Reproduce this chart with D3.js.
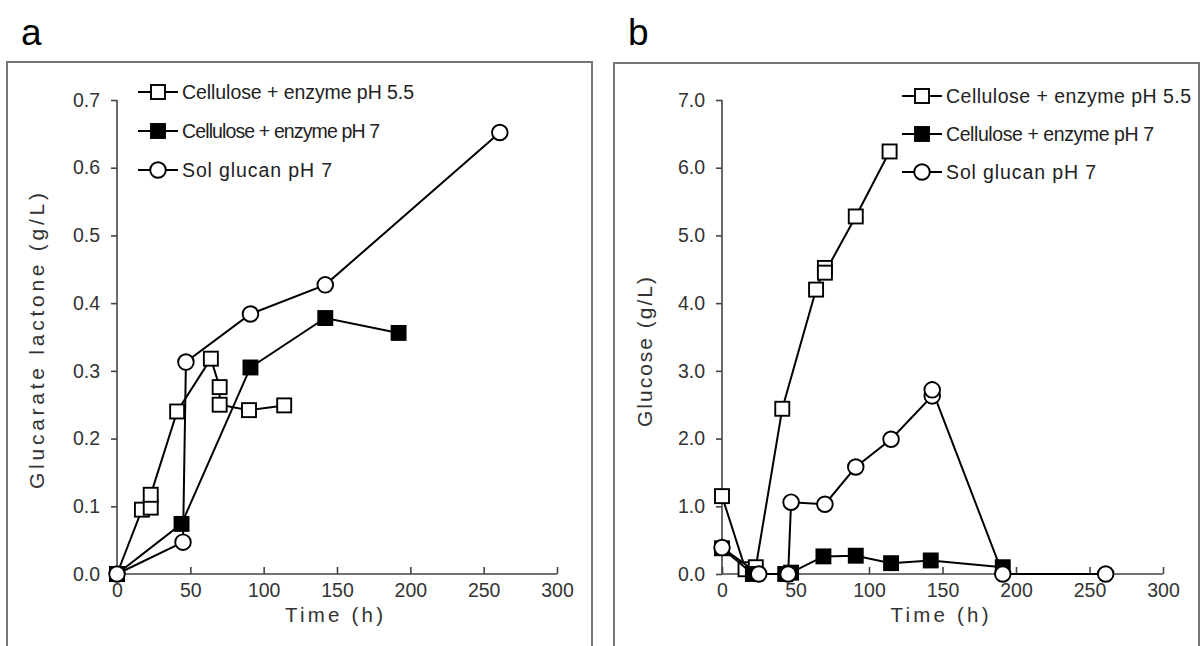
<!DOCTYPE html>
<html>
<head>
<meta charset="utf-8">
<script src="https://cdn.jsdelivr.net/npm/d3@7"></script>
<style>
  html, body { margin: 0; padding: 0; background: #fff; }
  svg { display: block; font-family: "Liberation Sans", Arial, sans-serif; }
</style>
</head>
<body>
<svg id="chart" width="1204" height="646"></svg>
<script>
// ---------- Data ----------
const seriesNames = ["Cellulose + enzyme pH 5.5", "Cellulose + enzyme pH 7", "Sol glucan pH 7"];
const xTicks = [0, 50, 100, 150, 200, 250, 300];

// Panel a: Glucarate lactone (g/L)
const aPH55Time  = [0, 17, 23, 23, 41, 64, 70, 70, 90, 114];
const aPH55Value = [0, 0.095, 0.098, 0.117, 0.240, 0.318, 0.276, 0.250, 0.242, 0.249];
const aPH7Time   = [0, 44, 91, 142, 192];
const aPH7Value  = [0, 0.074, 0.305, 0.378, 0.356];
const aSolTime   = [0, 45, 47, 91, 142, 261];
const aSolValue  = [0, 0.047, 0.313, 0.384, 0.427, 0.652];
const aYTicks = [0, 0.1, 0.2, 0.3, 0.4, 0.5, 0.6, 0.7];

// Panel b: Glucose (g/L)
const bPH55Time  = [0, 16, 23, 41, 64, 70, 70, 91, 114];
const bPH55Value = [1.15, 0.07, 0.10, 2.44, 4.20, 4.52, 4.45, 5.28, 6.24];
const bPH7Time   = [0, 21, 43, 47, 69, 91, 115, 142, 191];
const bPH7Value  = [0.38, 0.0, 0.0, 0.02, 0.26, 0.27, 0.16, 0.20, 0.10];
const bSolTime   = [0, 25, 45, 47, 70, 91, 115, 143, 143, 191, 261];
const bSolValue  = [0.39, 0.0, 0.0, 1.06, 1.03, 1.58, 1.99, 2.63, 2.72, 0.0, 0.0];
const bYTicks = [0, 1, 2, 3, 4, 5, 6, 7];

const markers = ["squareOpen", "squareFilled", "circleOpen"];

function zip(t, v) { return t.map((d, i) => ({ t: d, v: v[i] })); }

const panels = [
  {
    label: "a", frame: { x: 7, y: 62, w: 585 },
    xRange: [117, 557], yRange: [574, 100], yDomain: [0, 0.7],
    yTicks: aYTicks, yFmt: d3.format(".1f"),
    yTitle: "Glucarate lactone (g/L)", yTitleX: 37, yTitleY: 341, yTitleLen: 296,
    series: [zip(aPH55Time, aPH55Value), zip(aPH7Time, aPH7Value), zip(aSolTime, aSolValue)],
    legend: { x: 138, y: [92, 131, 170], textLen: [232, 198, 150] }
  },
  {
    label: "b", frame: { x: 614, y: 63, w: 585 },
    xRange: [722, 1163], yRange: [574, 100], yDomain: [0, 7],
    yTicks: bYTicks, yFmt: d3.format(".1f"),
    yTitle: "Glucose (g/L)", yTitleX: 645, yTitleY: 352, yTitleLen: 150,
    series: [zip(bPH55Time, bPH55Value), zip(bPH7Time, bPH7Value), zip(bSolTime, bSolValue)],
    legend: { x: 902, y: [96, 134, 172], textLen: [245, 208, 150] }
  }
];

const svg = d3.select("#chart");

function drawMarker(g, type, x, y) {
  if (type === "circleOpen") {
    g.append("circle").attr("cx", x).attr("cy", y).attr("r", 7.8)
      .attr("fill", "#fff").attr("stroke", "#000").attr("stroke-width", 1.9);
  } else {
    const s = 14;
    g.append("rect").attr("x", x - s / 2).attr("y", y - s / 2).attr("width", s).attr("height", s)
      .attr("fill", type === "squareFilled" ? "#000" : "#fff")
      .attr("stroke", "#000").attr("stroke-width", 1.9);
  }
}

panels.forEach(p => {
  const g = svg.append("g");
  // frame
  g.append("rect").attr("x", p.frame.x).attr("y", p.frame.y)
    .attr("width", p.frame.w).attr("height", 700)
    .attr("fill", "none").attr("stroke", "#777").attr("stroke-width", 2);
  // panel label
  g.append("text").attr("x", p.frame.x + 14).attr("y", 45)
    .attr("font-size", 37).attr("fill", "#000").text(p.label);

  const x = d3.scaleLinear().domain([0, 300]).range(p.xRange);
  const y = d3.scaleLinear().domain(p.yDomain).range(p.yRange);

  // y axis
  const yAxis = d3.axisLeft(y).tickValues(p.yTicks).tickFormat(p.yFmt).tickSize(6).tickPadding(11);
  const ya = g.append("g").attr("transform", `translate(${p.xRange[0]},0)`).call(yAxis);
  // x axis (ticks pointing up)
  const xAxis = d3.axisBottom(x).tickValues(xTicks).tickSize(0).tickPadding(9);
  const xa = g.append("g").attr("transform", `translate(0,${p.yRange[0]})`).call(xAxis);
  xa.selectAll(".tick").append("line").attr("y1", 0).attr("y2", -7);
  [ya, xa].forEach(ax => {
    ax.select(".domain").attr("stroke", "#444").attr("stroke-width", 1.6);
    ax.selectAll(".tick line").attr("stroke", "#444").attr("stroke-width", 1.6);
    ax.selectAll(".tick text").attr("font-size", 19.5).attr("fill", "#333")
      .attr("font-family", "'Liberation Sans', Arial, sans-serif");
  });
  xa.select(".domain").attr("d", `M${p.xRange[0]},0H${p.xRange[1]}`);
  ya.select(".domain").attr("d", `M0,${p.yRange[0]}V${p.yRange[1]}`);

  // axis titles
  const cx = (p.xRange[0] + p.xRange[1]) / 2;
  g.append("text").attr("x", cx - 3).attr("y", 622).attr("text-anchor", "middle")
    .attr("font-size", 20.5).attr("fill", "#333")
    .attr("textLength", 98).attr("lengthAdjust", "spacing").text("Time (h)");
  g.append("text").attr("transform", `translate(${p.yTitleX + 7},${p.yTitleY}) rotate(-90)`)
    .attr("text-anchor", "middle").attr("font-size", 21).attr("fill", "#333")
    .attr("textLength", p.yTitleLen).attr("lengthAdjust", "spacing").text(p.yTitle);

  // series
  const line = d3.line().x(d => x(d.t)).y(d => y(d.v));
  p.series.forEach((s, i) => {
    g.append("path").datum(s).attr("d", line)
      .attr("fill", "none").attr("stroke", "#000").attr("stroke-width", 2);
    const mg = g.append("g");
    s.forEach(d => drawMarker(mg, markers[i], x(d.t), y(d.v)));
  });

  // legend
  seriesNames.forEach((name, i) => {
    const ly = p.legend.y[i];
    const lg = g.append("g");
    lg.append("line").attr("x1", p.legend.x).attr("x2", p.legend.x + 40)
      .attr("y1", ly).attr("y2", ly).attr("stroke", "#000").attr("stroke-width", 2);
    drawMarker(lg, markers[i], p.legend.x + 20, ly);
    lg.append("text").attr("x", p.legend.x + 44).attr("y", ly + 7)
      .attr("font-size", 19.5).attr("fill", "#222")
      .attr("textLength", p.legend.textLen[i]).attr("lengthAdjust", "spacing")
      .text(name);
  });
});
</script>
</body>
</html>
